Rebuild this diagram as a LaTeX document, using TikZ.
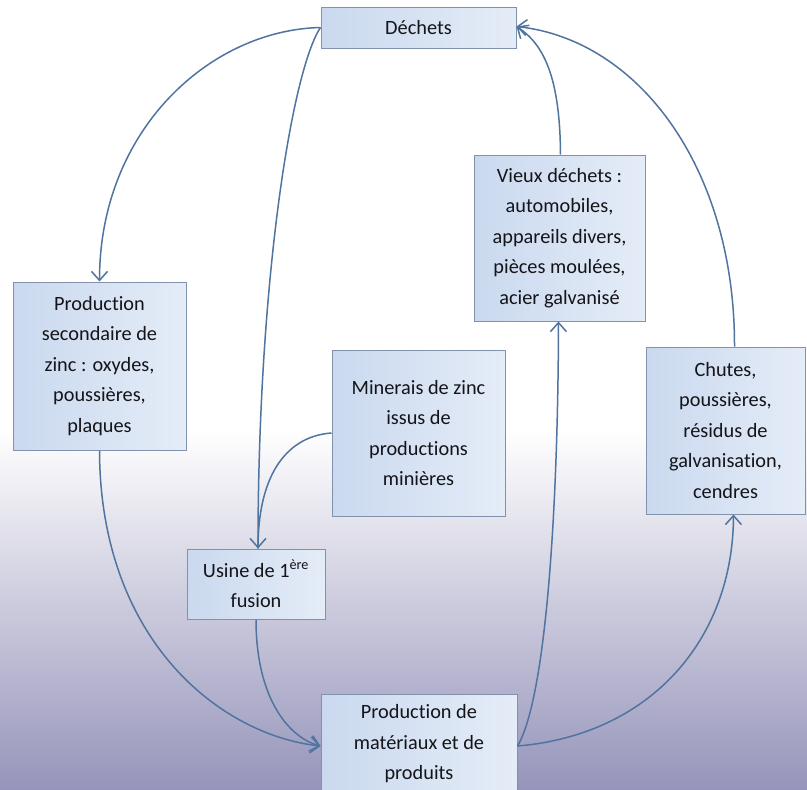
\documentclass[tikz,border=0pt]{standalone}
\usepackage{fontspec}
\setmainfont{Carlito}[Ligatures=NoCommon]
\usetikzlibrary{arrows.meta}
\definecolor{boxL}{RGB}{202,217,239}
\definecolor{boxR}{RGB}{228,236,247}
\definecolor{boxBorder}{RGB}{128,146,172}
\definecolor{arrowC}{RGB}{80,116,160}
\definecolor{bgBottom}{RGB}{150,148,186}
\definecolor{txt}{RGB}{20,20,25}
\tikzset{
  box/.style={draw=boxBorder, line width=1pt, left color=boxL, right color=boxR,
    inner sep=0pt, align=center, text=txt,
    font=\fontsize{20.3}{30.5}\selectfont},
  flow/.style={draw=arrowC, line width=1.5pt,
    -{Straight Barb[length=9pt,width=16pt,line width=1.5pt]}},
  flowplain/.style={draw=arrowC, line width=1.5pt}
}
\begin{document}
\begin{tikzpicture}[x=1pt,y=-1pt]
\useasboundingbox (0,0) rectangle (807,790);
\clip (0,0) rectangle (807,790);
\fill[white] (0,0) rectangle (807,430);
\shade[top color=white, bottom color=bgBottom] (0,429.5) rectangle (807,790);

\node[box, minimum width=195pt, minimum height=41pt] (dech) at (418.5,27.5) {Déchets};
\node[box, minimum width=171pt, minimum height=166pt] (vieux) at (559.5,238) {Vieux déchets :\\automobiles,\\appareils divers,\\pièces moulées,\\acier galvanisé};
\node[box, minimum width=173pt, minimum height=168pt] (prodsec) at (99.5,366) {Production\\secondaire de\\zinc : oxydes,\\poussières,\\plaques};
\node[box, minimum width=173pt, minimum height=166pt] (miner) at (418.5,433) {Minerais de zinc\\issus de\\productions\\minières};
\node[box, minimum width=159pt, minimum height=167pt] (chutes) at (725.5,430.5) {Chutes,\\poussières,\\résidus de\\galvanisation,\\cendres};
\node[box, minimum width=138pt, minimum height=70pt] (usine) at (256,584) {Usine de 1\textsuperscript{ère}\\fusion};
\node[box, minimum width=196pt, minimum height=100pt] (pdm) at (419,744) {Production de\\matériaux et de\\produits};

% Déchets -> Production secondaire
\draw[flow] (dech.west) .. controls (210,30) and (99.5,130) .. (prodsec.north);
% Déchets -> Usine
\draw[flow] (dech.west) .. controls (292,70) and (258,280) .. ([xshift=2pt]usine.north);
% Minerais -> Usine
\draw[flowplain] (miner.west) .. controls (290,436) and (258,470) .. ([xshift=2pt]usine.north);
% Production secondaire -> PdM
\draw[flow] (prodsec.south) .. controls (100,640) and (220,735) .. ([yshift=-2pt]pdm.west);
% Usine -> PdM
\draw[flow] (usine.south) .. controls (256,700) and (290,738) .. ([yshift=-2pt]pdm.west);
% PdM -> Vieux déchets
\draw[flow] ([yshift=-2pt]pdm.east) .. controls (545,700) and (558,520) .. ([xshift=-1pt]vieux.south);
% PdM -> Chutes
\draw[flow] ([yshift=-2pt]pdm.east) .. controls (650,735) and (733,640) .. ([xshift=8pt]chutes.south);
% Vieux déchets -> Déchets
\draw[flow] ([xshift=1pt]vieux.north) .. controls (560,80) and (545,45) .. ([yshift=1pt]dech.east);
% Chutes -> Déchets
\draw[flow] ([xshift=9pt]chutes.north) .. controls (735,170) and (640,40) .. ([yshift=1pt]dech.east);
\end{tikzpicture}
\end{document}
